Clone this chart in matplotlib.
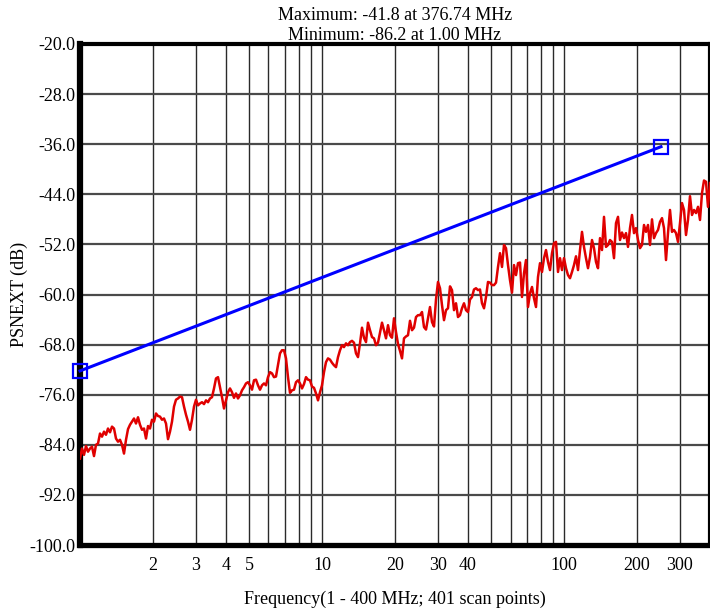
import numpy as np
import matplotlib
matplotlib.use("Agg")
import matplotlib.pyplot as plt
from matplotlib.ticker import FixedLocator, NullLocator, NullFormatter

psnext_db = [
    # 1 - 3 MHz
    -86.2, -84.6, -85.6, -84.2, -85.1, -84.6, -84.3, -85.8, -84.0, -83.8,
    -82.2, -82.7, -81.9, -82.4, -81.4, -82.0, -81.1, -81.4, -83.0, -83.5,
    -83.2, -84.0, -85.4, -83.2, -81.5, -80.8, -80.3, -79.8, -80.6, -79.6,
    -80.8, -81.6, -81.4, -83.0, -81.0, -81.4, -80.0, -80.3, -79.0, -79.4,
    -79.5, -80.0, -79.8, -80.6, -83.1, -81.9, -80.3, -77.9, -76.8, -76.6,
    -76.3, -76.4, -77.9, -79.2, -80.3, -81.6, -80.0, -77.9, -76.8, -77.7,
    # 3 - 10 MHz
    -77.4, -77.2, -77.5, -76.9, -77.2, -76.6, -76.4, -75.0, -73.4, -73.2,
    -74.8, -76.4, -78.2, -76.9, -75.6, -75.0, -75.6, -76.5, -75.8, -76.6,
    -76.1, -75.3, -74.8, -74.2, -74.0, -74.5, -75.2, -73.7, -73.6, -74.5,
    -75.2, -74.5, -74.2, -74.5, -73.2, -72.4, -72.6, -73.2, -73.1, -71.3,
    -69.4, -68.9, -68.9, -70.2, -73.2, -75.7, -75.3, -75.2, -74.0, -73.7,
    -74.2, -75.0, -74.3, -73.2, -73.6, -73.7, -74.7, -74.9, -75.8, -76.9,
    -75.6, -74.5,
    # 10 - 34 MHz
    -72.4, -70.8, -70.2, -70.4, -70.9, -71.3, -71.6, -70.0, -68.9, -68.1,
    -68.4, -67.8, -68.1, -67.6, -67.4, -67.7, -69.4, -70.0, -67.8, -65.3,
    -66.9, -67.6, -64.5, -65.7, -66.8, -67.0, -68.1, -67.7, -66.1, -64.5,
    -65.7, -67.0, -64.9, -66.5, -66.9, -63.8, -66.0, -67.9, -69.0, -70.2,
    -67.0, -66.7, -66.5, -64.2, -65.7, -65.3, -63.6, -63.3, -63.3, -62.8,
    -65.2, -65.6, -63.8, -62.0, -64.4, -65.1, -60.8, -58.0, -59.0, -61.7,
    -64.1, -62.5, -62.2,
    # 34 - 115 MHz
    -58.7, -59.3, -62.5, -61.4, -63.6, -63.3, -62.2, -61.4, -62.5, -62.8,
    -60.8, -60.4, -59.2, -59.0, -59.3, -59.2, -61.4, -62.2, -60.4, -58.0,
    -58.1, -58.5, -58.5, -58.1, -55.6, -53.4, -55.6, -52.1, -52.6, -55.3,
    -57.7, -59.7, -55.3, -56.9, -55.0, -54.9, -60.4, -56.6, -54.5, -62.0,
    -59.8, -58.8, -60.6, -62.0, -57.2, -55.0, -56.4, -54.2, -52.9, -54.8,
    -56.1, -53.4, -51.8, -51.6, -56.4, -54.2, -56.1, -54.2, -55.8, -56.9,
    -57.4, -56.4, -55.3,
    # 115 - 400 MHz
    -53.9, -56.1, -52.9, -50.0, -52.4, -54.2, -55.8, -54.0, -51.3, -52.6,
    -54.8, -55.8, -51.0, -52.9, -47.6, -52.4, -52.1, -51.3, -51.6, -54.2,
    -48.6, -47.6, -51.3, -50.1, -51.0, -50.2, -52.4, -49.4, -47.3, -50.2,
    -49.4, -51.3, -52.6, -52.1, -48.9, -50.0, -48.9, -52.1, -48.0, -51.0,
    -50.2, -49.7, -48.4, -47.8, -49.4, -54.5, -50.2, -46.5, -50.0, -49.7,
    -50.2, -51.6, -48.6, -45.4, -46.5, -50.5, -48.1, -44.3, -47.3, -46.5,
    -47.0, -46.0, -48.1, -43.8, -41.8, -42.0, -46.0, -42.2,
]
scan_freq = np.geomspace(1, 400, len(psnext_db))

# limit line
limit_freq = [1.0, 251.0]
limit_db = [-72.2, -36.4]

y_ticks = list(range(-100, -19, 8))
x_labels = [2, 3, 4, 5, 10, 20, 30, 40, 100, 200, 300]
grid_x = [v * d for d in (1, 10, 100) for v in range(1, 10) if v * d <= 400]

plt.rcParams['font.family'] = ['Liberation Serif', 'DejaVu Serif']
plt.rcParams['font.size'] = 13

fig = plt.figure(figsize=(7.10, 6.13), dpi=100)
ax = fig.add_axes([80 / 710, 1 - 545 / 613, 630 / 710, 501 / 613])

ax.set_xscale('log')
ax.set_xlim(1, 400)
ax.set_ylim(-100, -20)

for g in grid_x:
    ax.axvline(g, color='#2a2a2a', lw=1.0, zorder=1)
for t in y_ticks:
    ax.axhline(t, color='#4a4a4a', lw=1.6, zorder=1)

ax.plot(scan_freq, psnext_db, color='#e00000', lw=1.8, zorder=3)
ax.plot(limit_freq, limit_db, color='#0000ff', lw=2.2, marker='s', ms=10,
        mfc='none', mec='#0000ff', mew=1.6, zorder=4, clip_on=False)

ax.xaxis.set_major_locator(FixedLocator(x_labels))
ax.xaxis.set_minor_locator(NullLocator())
ax.xaxis.set_minor_formatter(NullFormatter())
ax.set_xticklabels([str(v) for v in x_labels])
ax.set_yticks(y_ticks)
ax.set_yticklabels(['%.1f' % t for t in y_ticks])
ax.tick_params(axis='both', length=0)
ax.tick_params(axis='x', pad=9)
ax.tick_params(axis='y', pad=3)

ax.spines['left'].set_linewidth(4.5)
ax.spines['bottom'].set_linewidth(3.8)
ax.spines['top'].set_linewidth(3.0)
ax.spines['right'].set_linewidth(3.0)

ax.set_xlabel('Frequency(1 - 400 MHz; 401 scan points)', labelpad=12)
ax.set_ylabel('PSNEXT (dB)', labelpad=1.5)
ax.set_title('Maximum: -41.8 at 376.74 MHz\nMinimum: -86.2 at 1.00 MHz',
             fontsize=13, pad=3, linespacing=1.2)

fig.savefig('out.png', dpi=100)
